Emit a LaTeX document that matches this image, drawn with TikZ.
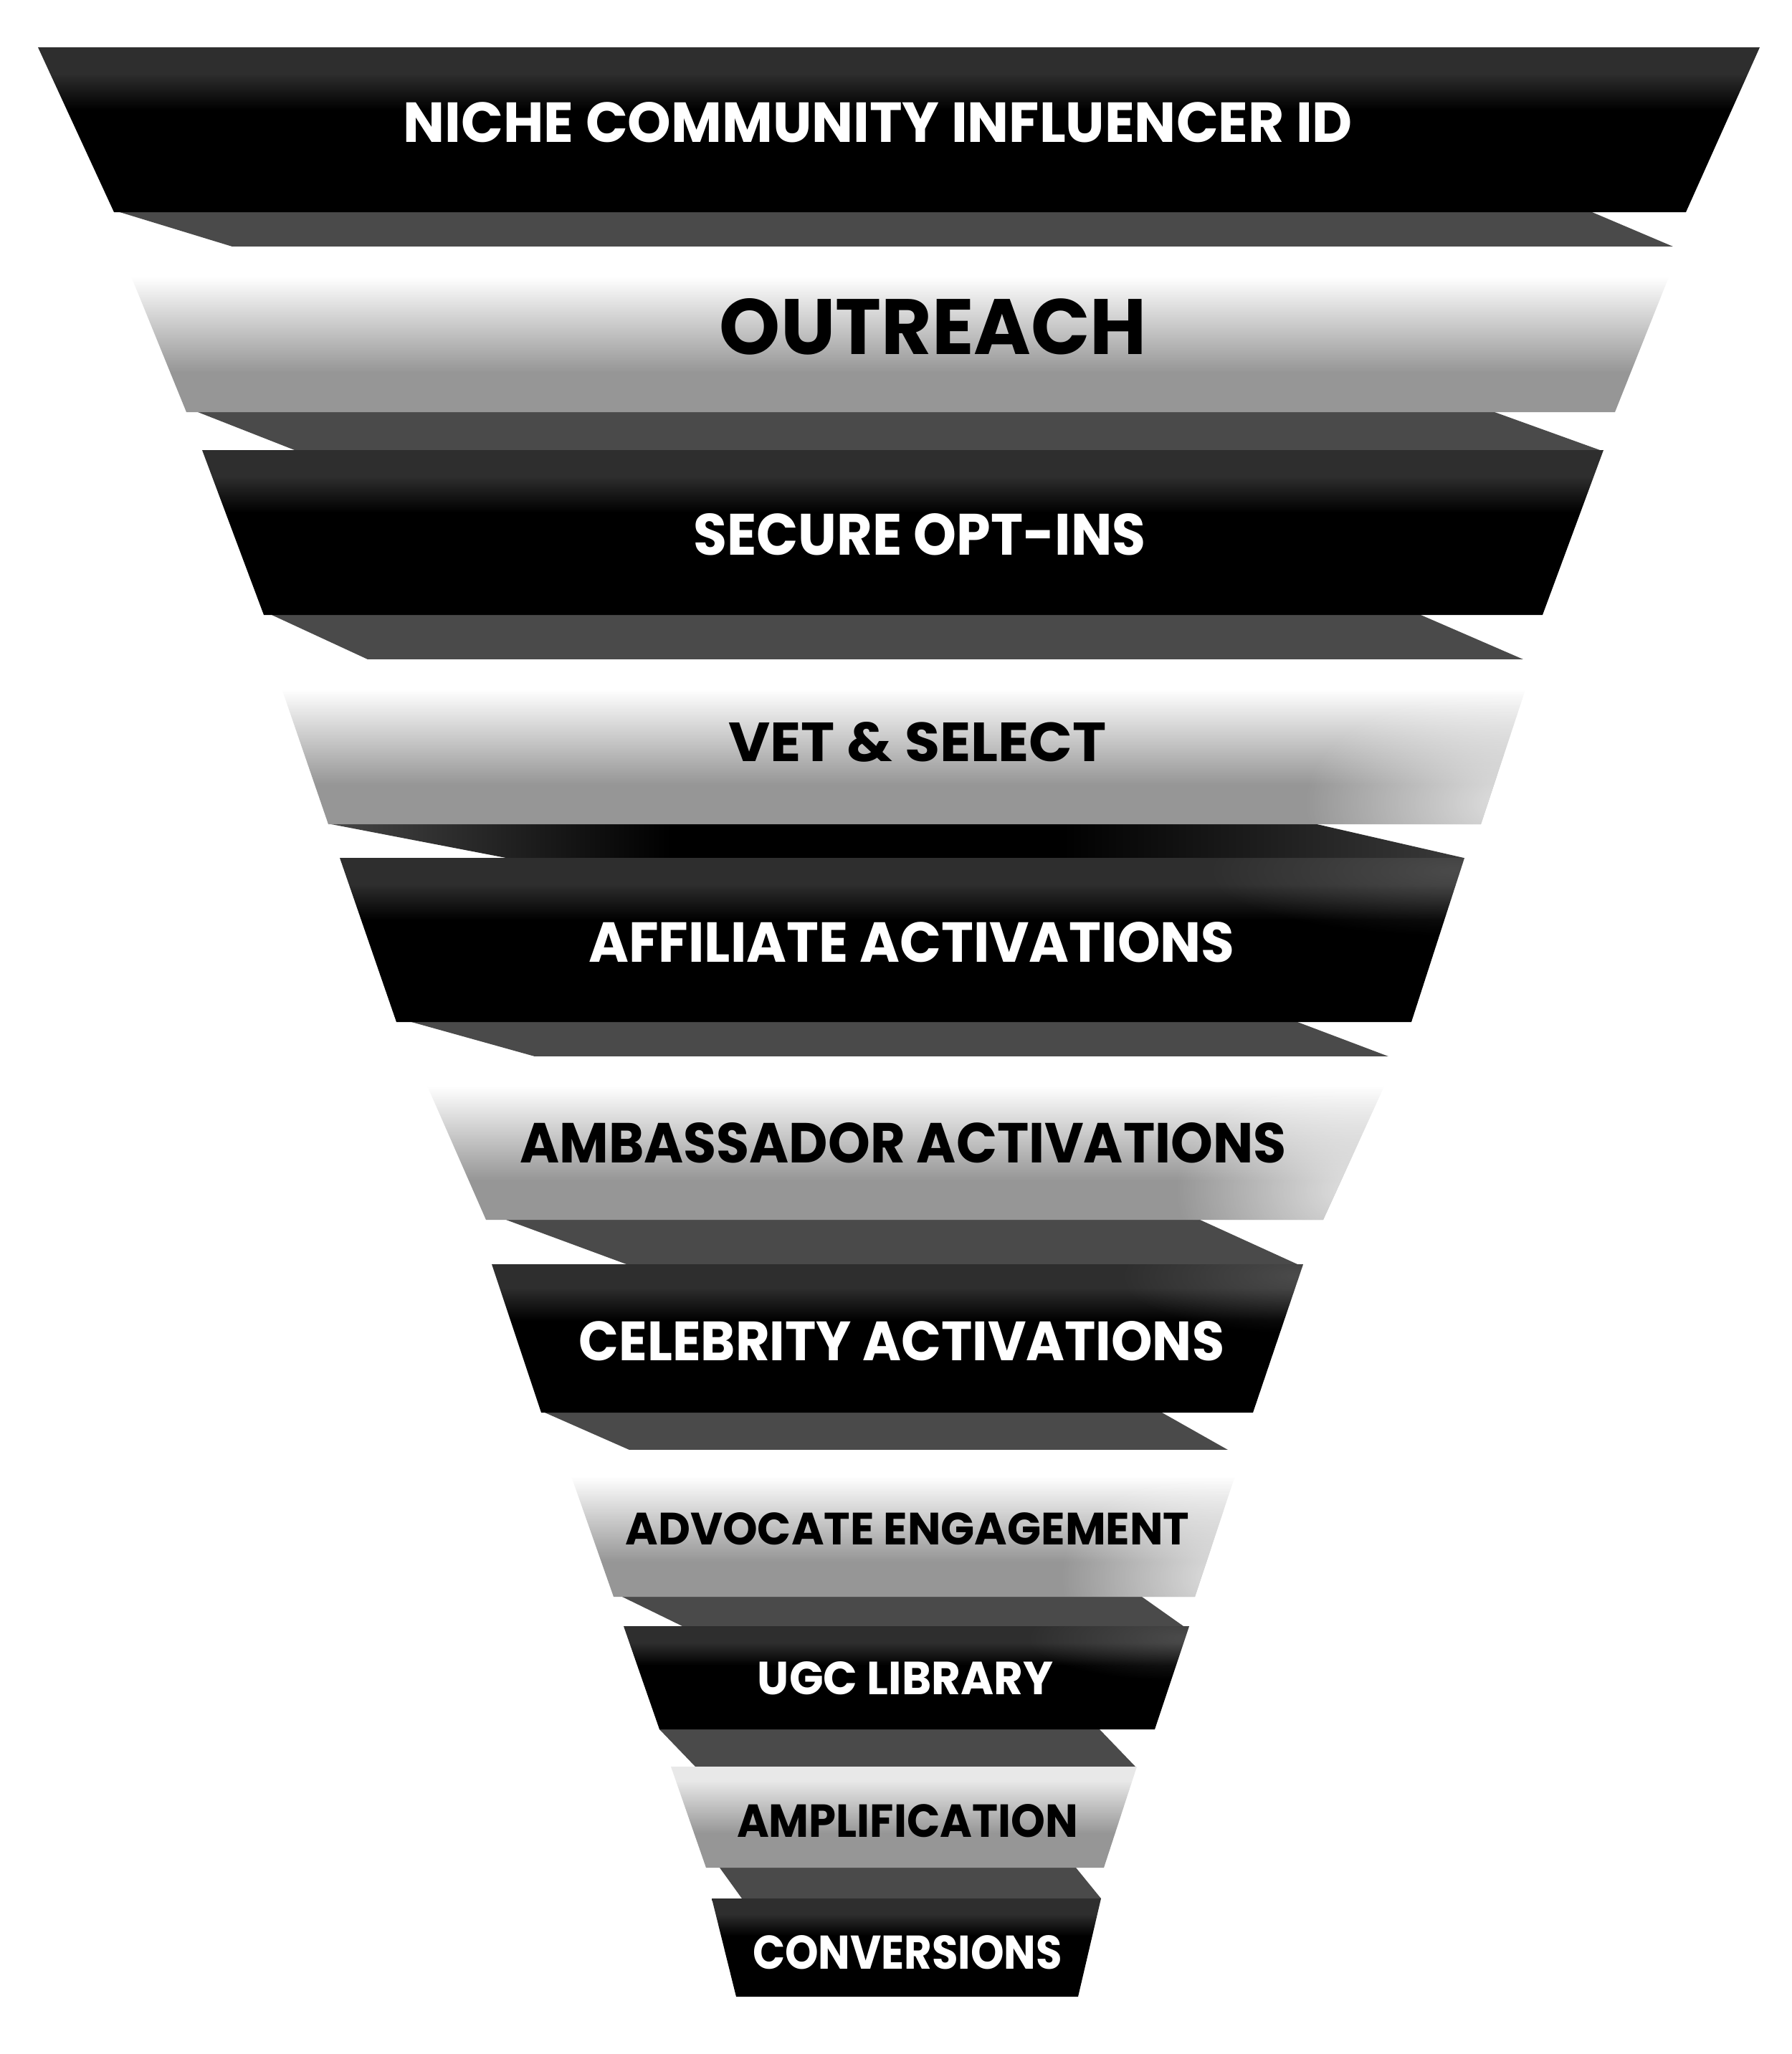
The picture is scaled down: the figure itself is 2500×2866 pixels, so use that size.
\documentclass[tikz,border=0pt]{standalone}
\usepackage{fontspec}
\setmainfont{Poppins}
\usetikzlibrary{fadings}
\definecolor{dk}{HTML}{2E2E2E}
\definecolor{lg}{HTML}{969696}
\definecolor{cn}{HTML}{4A4A4A}
\definecolor{tenTop}{HTML}{E8E8E8}
\definecolor{cfourL}{HTML}{454545}
\definecolor{cfourR}{HTML}{3A3A3A}
\newdimen\pxu \pxu=0.2pt
\newcommand{\lbl}[3]{\resizebox{#1\pxu}{#2\pxu}{\bfseries #3}}
\pgfdeclareverticalshading{darkband}{100bp}{color(0bp)=(black); color(25bp)=(black); color(56bp)=(black); color(67bp)=(dk); color(100bp)=(dk)}
\pgfdeclareverticalshading{lightband}{100bp}{color(0bp)=(lg); color(25bp)=(lg); color(37bp)=(lg); color(66bp)=(white); color(100bp)=(white)}
\pgfdeclareverticalshading{lightten}{100bp}{color(0bp)=(lg); color(25bp)=(lg); color(42bp)=(lg); color(68bp)=(tenTop); color(100bp)=(tenTop)}
\pgfdeclarehorizontalshading{connfour}{100bp}{color(0bp)=(cfourL); color(25bp)=(cfourL); color(40bp)=(black); color(57bp)=(black); color(75bp)=(cfourR); color(100bp)=(cfourR)}
\tikzfading[name=glowfade, inner color=transparent!0, outer color=transparent!100]
\tikzset{
  darkb/.style={shading=darkband},
  lightb/.style={shading=lightband},
  conn/.style={fill=cn},
  wtxt/.style={inner sep=0pt, text=white},
  btxt/.style={inner sep=0pt, text=black},
  glowL/.style={fill=white, fill opacity=0.75, path fading=glowfade},
  glowD/.style={fill=gray, fill opacity=0.35, path fading=glowfade}
}
\begin{document}
\begin{tikzpicture}[x=0.2pt, y=-0.2pt]
\useasboundingbox (0,0) rectangle (2500,2866);
\fill[white] (0,0) rectangle (2500,2866);
% connectors
\fill[conn] (167,296) -- (2221,296) -- (2334,344) -- (324,344) -- cycle;
\fill[conn] (276,575) -- (2085,575) -- (2232,628) -- (411,628) -- cycle;
\fill[conn] (379,858) -- (1982,858) -- (2125,920) -- (513,920) -- cycle;
\shade[shading=connfour] (462,1150) -- (1837,1150) -- (2042,1197) -- (706,1197) -- cycle;
\fill[conn] (574,1426) -- (1810,1426) -- (1937,1474) -- (746,1474) -- cycle;
\fill[conn] (706,1702) -- (1674,1702) -- (1810,1764) -- (874,1764) -- cycle;
\fill[conn] (760,1971) -- (1621,1971) -- (1713,2023) -- (878,2023) -- cycle;
\fill[conn] (868,2228) -- (1593,2228) -- (1651,2269) -- (952,2269) -- cycle;
\fill[conn] (920,2413) -- (1534,2413) -- (1584,2465) -- (970,2465) -- cycle;
\fill[conn] (1004,2606) -- (1501,2606) -- (1536,2649) -- (1035,2649) -- cycle;
% bands
\shade[darkb] (53,66) -- (2455,66) -- (2352,296) -- (159,296) -- cycle;
\shade[lightb] (166,344) -- (2345,344) -- (2253,575) -- (260,575) -- cycle;
\shade[darkb] (282,628) -- (2237,628) -- (2152,858) -- (368,858) -- cycle;
\begin{scope}
\clip (379,920) -- (2142,920) -- (2066,1150) -- (458,1150) -- cycle;
\shade[lightb] (379,920) -- (2142,920) -- (2066,1150) -- (458,1150) -- cycle;
\fill[glowL] (2120,1120) ellipse (300 and 170);
\end{scope}
\begin{scope}
\clip (474,1197) -- (2043,1197) -- (1969,1426) -- (553,1426) -- cycle;
\shade[darkb] (474,1197) -- (2043,1197) -- (1969,1426) -- (553,1426) -- cycle;
\fill[glowD] (2030,1215) ellipse (350 and 90);
\end{scope}
\begin{scope}
\clip (578,1474) -- (1950,1474) -- (1846,1702) -- (678,1702) -- cycle;
\shade[lightb] (578,1474) -- (1950,1474) -- (1846,1702) -- (678,1702) -- cycle;
\fill[glowL] (1900,1660) ellipse (260 and 170);
\end{scope}
\begin{scope}
\clip (686,1764) -- (1818,1764) -- (1748,1971) -- (755,1971) -- cycle;
\shade[darkb] (686,1764) -- (1818,1764) -- (1748,1971) -- (755,1971) -- cycle;
\fill[glowD] (1810,1780) ellipse (250 and 80);
\end{scope}
\begin{scope}
\clip (784,2023) -- (1735,2023) -- (1667,2228) -- (856,2228) -- cycle;
\shade[lightb] (784,2023) -- (1735,2023) -- (1667,2228) -- (856,2228) -- cycle;
\fill[glowL] (1720,2200) ellipse (240 and 160);
\end{scope}
\begin{scope}
\clip (870,2269) -- (1659,2269) -- (1611,2413) -- (920,2413) -- cycle;
\shade[darkb] (870,2269) -- (1659,2269) -- (1611,2413) -- (920,2413) -- cycle;
\fill[glowD] (1650,2285) ellipse (220 and 60);
\end{scope}
\shade[shading=lightten] (936,2465) -- (1586,2465) -- (1540,2606) -- (985,2606) -- cycle;
\shade[darkb] (993,2649) -- (1536,2649) -- (1504,2786) -- (1027,2786) -- cycle;
% labels
\node[wtxt] (t1) at (1225,171) {\lbl{1324}{56}{NICHE COMMUNITY INFLUENCER ID}};
\node[btxt] (t2) at (1302,456) {\lbl{596}{78}{OUTREACH}};
\node[wtxt] (t3) at (1283,746) {\lbl{631}{58}{SECURE OPT-INS}};
\node[btxt] (t4) at (1280,1035) {\lbl{527}{55}{VET \& SELECT}};
\node[wtxt] (t5) at (1272,1315) {\lbl{901}{56}{AFFILIATE ACTIVATIONS}};
\node[btxt] (t6) at (1260,1595) {\lbl{1069}{56}{AMBASSADOR ACTIVATIONS}};
\node[wtxt] (t7) at (1258,1871) {\lbl{900}{55}{CELEBRITY ACTIVATIONS}};
\node[btxt] (t8) at (1266,2133) {\lbl{787}{45}{ADVOCATE ENGAGEMENT}};
\node[wtxt] (t9) at (1263,2342) {\lbl{412}{46}{UGC LIBRARY}};
\node[btxt] (t10) at (1266,2541) {\lbl{476}{46}{AMPLIFICATION}};
\node[wtxt] (t11) at (1266,2724) {\lbl{432}{47}{CONVERSIONS}};
\end{tikzpicture}
\end{document}
